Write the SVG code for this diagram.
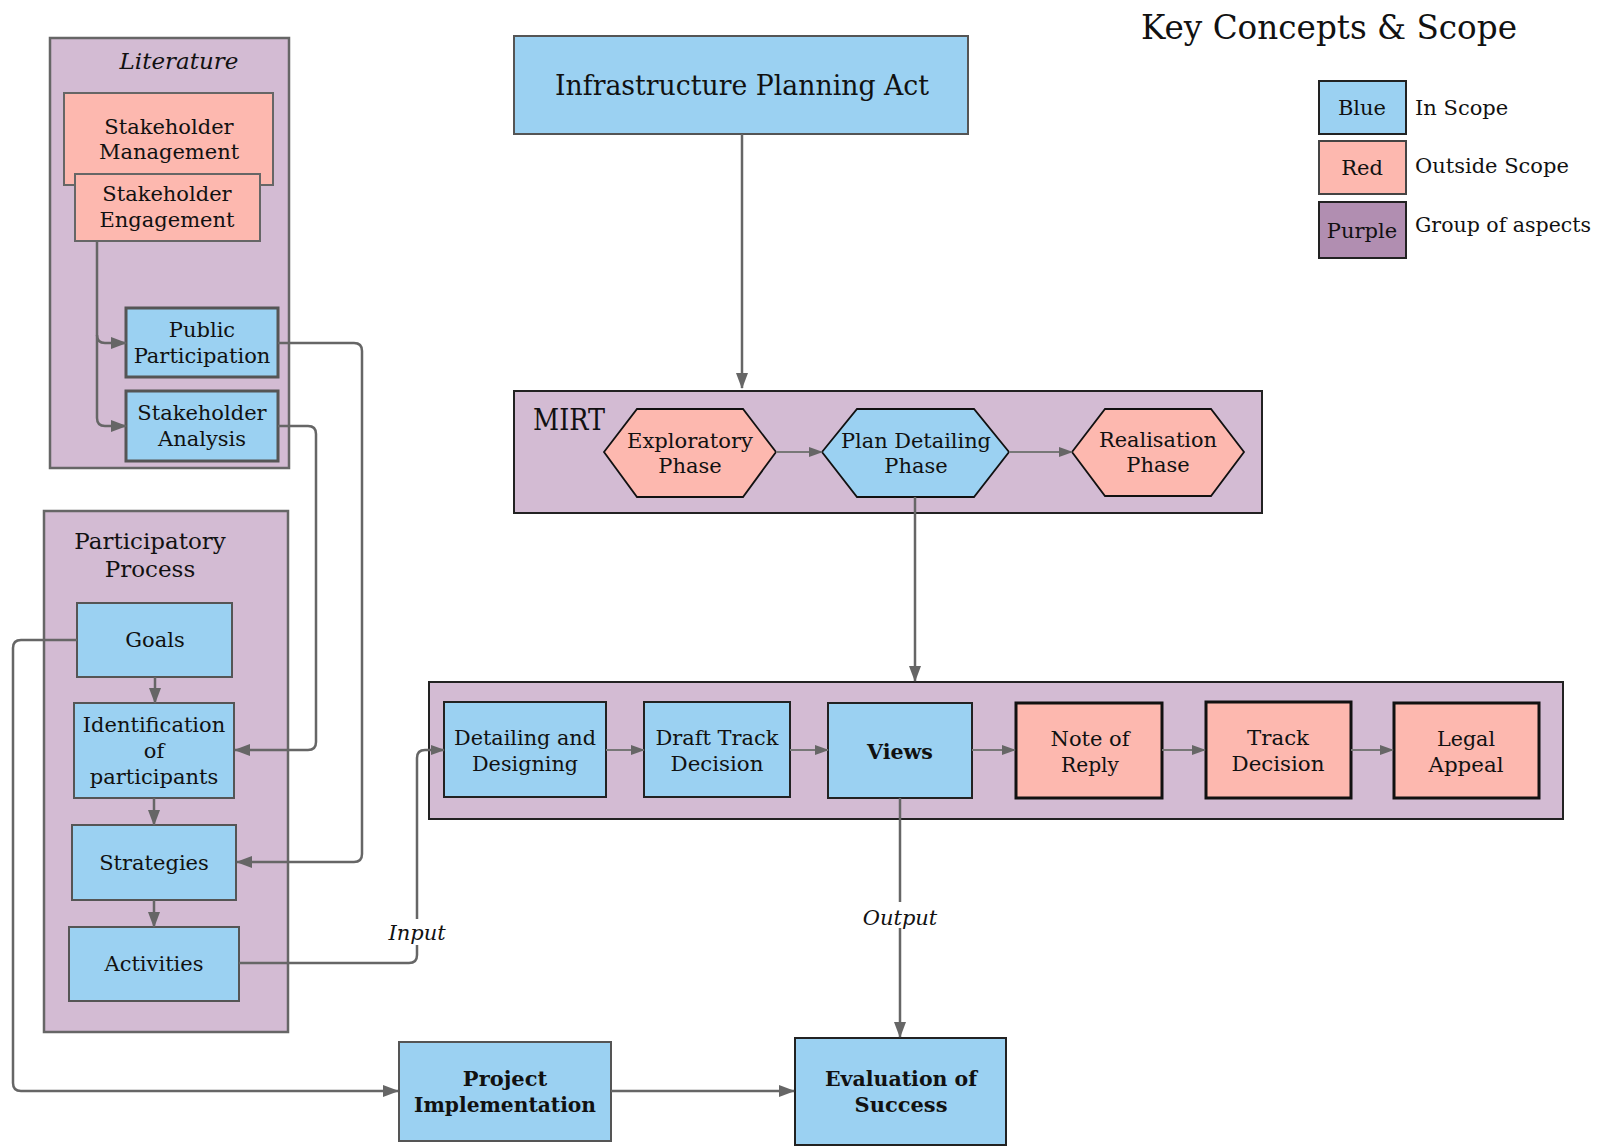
<svg xmlns="http://www.w3.org/2000/svg" width="1600" height="1147" viewBox="0 0 1600 1147">
<style>
text{font-family:"DejaVu Serif","Liberation Serif",serif;fill:#111;text-anchor:middle}
.t22{font-size:21px}
.it{font-style:italic}
.b{font-weight:bold}
.grp{fill:#D3BBD3;stroke:#666;stroke-width:2.5}
.grpk{fill:#D3BBD3;stroke:#222;stroke-width:2}
.blue{fill:#9BD1F2;stroke:#555;stroke-width:2}
.blue3{fill:#9BD1F2;stroke:#555;stroke-width:3}
.bluek{fill:#9BD1F2;stroke:#222;stroke-width:2}
.red{fill:#FDB8AF;stroke:#666;stroke-width:2}
.redk{fill:#FDB8AF;stroke:#111;stroke-width:3}
.con{fill:none;stroke:#666;stroke-width:2.5}
.cons{fill:none;stroke:#777;stroke-width:1.8}
</style>
<defs>
<marker id="ah" viewBox="0 0 16 12" refX="15" refY="6" markerWidth="16" markerHeight="12" markerUnits="userSpaceOnUse" orient="auto"><path d="M0,0L16,6L0,12z" fill="#666"/></marker>
<marker id="as" viewBox="0 0 14 10" refX="13" refY="5" markerWidth="14" markerHeight="10" markerUnits="userSpaceOnUse" orient="auto"><path d="M0,0L14,5L0,10z" fill="#666"/></marker>
</defs>

<g id="legend">
<text x="1329" y="39" style="font-size:33px" textLength="376" lengthAdjust="spacingAndGlyphs">Key Concepts &amp; Scope</text>
<rect x="1319" y="81" width="87" height="53" fill="#9BD1F2" stroke="#222" stroke-width="2"/>
<text x="1362" y="115" class="t22">Blue</text>
<rect x="1319" y="141" width="87" height="53" fill="#FDB8AF" stroke="#444" stroke-width="2"/>
<text x="1362" y="175" class="t22">Red</text>
<rect x="1319" y="202" width="87" height="56" fill="#B18EB1" stroke="#222" stroke-width="2"/>
<text x="1362" y="238" class="t22">Purple</text>
<text x="1415" y="115" class="t22" style="text-anchor:start">In Scope</text>
<text x="1415" y="173" class="t22" style="text-anchor:start">Outside Scope</text>
<text x="1415" y="232" class="t22" style="text-anchor:start" textLength="176" lengthAdjust="spacingAndGlyphs">Group of aspects</text>
</g>

<g id="literature">
<rect x="50" y="38" width="239" height="430" class="grp"/>
<text x="179" y="69" class="it" style="font-size:23px">Literature</text>
</g>
<g id="participatory">
<rect x="44" y="511" width="244" height="521" class="grp" stroke-width="1.5"/>
<text x="150" y="549" style="font-size:23px">Participatory</text>
<text x="150" y="577" style="font-size:23px">Process</text>
</g>
<g id="mirt">
<rect x="514" y="391" width="748" height="122" class="grpk"/>
<text x="569" y="430" style="font-size:29px" textLength="72" lengthAdjust="spacingAndGlyphs">MIRT</text>
</g>
<g id="planphase">
<rect x="429" y="682" width="1134" height="137" class="grpk"/>
</g>

<g id="stakeholder-management">
<rect x="64" y="93" width="209" height="92" class="red"/>
<text x="169" y="134" class="t22">Stakeholder</text>
<text x="169" y="159" class="t22">Management</text>
</g>
<g id="stakeholder-engagement">
<rect x="75" y="174" width="185" height="67" class="red"/>
<text x="167" y="201" class="t22">Stakeholder</text>
<text x="167" y="227" class="t22">Engagement</text>
</g>
<g id="public-participation">
<rect x="126" y="308" width="152" height="69" class="blue3"/>
<text x="202" y="337" class="t22">Public</text>
<text x="202" y="363" class="t22">Participation</text>
</g>
<g id="stakeholder-analysis">
<rect x="126" y="391" width="152" height="70" class="blue3"/>
<text x="202" y="420" class="t22">Stakeholder</text>
<text x="202" y="446" class="t22">Analysis</text>
</g>

<g id="goals">
<rect x="77" y="603" width="155" height="74" class="blue" stroke-width="1.5"/>
<text x="155" y="647" class="t22">Goals</text>
</g>
<g id="identification">
<rect x="74" y="703" width="160" height="95" class="blue" stroke-width="1.5"/>
<text x="154" y="732" class="t22">Identification</text>
<text x="154" y="758" class="t22">of</text>
<text x="154" y="784" class="t22">participants</text>
</g>
<g id="strategies">
<rect x="72" y="825" width="164" height="75" class="blue" stroke-width="1.5"/>
<text x="154" y="870" class="t22">Strategies</text>
</g>
<g id="activities">
<rect x="69" y="927" width="170" height="74" class="blue" stroke-width="1.5"/>
<text x="154" y="971" class="t22">Activities</text>
</g>

<g id="infrastructure-planning-act">
<rect x="514" y="36" width="454" height="98" class="blue" stroke="#333"/>
<text x="742" y="95" style="font-size:28px" textLength="374" lengthAdjust="spacingAndGlyphs">Infrastructure Planning Act</text>
</g>

<g id="exploratory">
<polygon points="604,452 637,409 743,409 776,452 743,497 637,497" fill="#FDB8AF" stroke="#111" stroke-width="1.8"/>
<text x="690" y="448" class="t22" textLength="126" lengthAdjust="spacingAndGlyphs">Exploratory</text>
<text x="690" y="473" class="t22">Phase</text>
</g>
<g id="plan-detailing">
<polygon points="822,452 857,409 974,409 1009,452 974,497 857,497" fill="#9BD1F2" stroke="#111" stroke-width="1.8"/>
<text x="916" y="448" class="t22" textLength="150" lengthAdjust="spacingAndGlyphs">Plan Detailing</text>
<text x="916" y="473" class="t22">Phase</text>
</g>
<g id="realisation">
<polygon points="1072,452 1105,409 1211,409 1244,452 1211,496 1105,496" fill="#FDB8AF" stroke="#111" stroke-width="1.8"/>
<text x="1158" y="447" class="t22" textLength="118" lengthAdjust="spacingAndGlyphs">Realisation</text>
<text x="1158" y="472" class="t22">Phase</text>
</g>

<g id="detailing-designing">
<rect x="444" y="702" width="162" height="95" class="bluek"/>
<text x="525" y="745" class="t22" textLength="142" lengthAdjust="spacingAndGlyphs">Detailing and</text>
<text x="525" y="771" class="t22" textLength="106" lengthAdjust="spacingAndGlyphs">Designing</text>
</g>
<g id="draft-track-decision">
<rect x="644" y="702" width="146" height="95" class="bluek"/>
<text x="717" y="745" class="t22" textLength="123" lengthAdjust="spacingAndGlyphs">Draft Track</text>
<text x="717" y="771" class="t22" textLength="93" lengthAdjust="spacingAndGlyphs">Decision</text>
</g>
<g id="views">
<rect x="828" y="703" width="144" height="95" class="bluek"/>
<text x="900" y="759" class="t22 b" textLength="66" lengthAdjust="spacingAndGlyphs">Views</text>
</g>
<g id="note-of-reply">
<rect x="1016" y="703" width="146" height="95" class="redk"/>
<text x="1090" y="746" class="t22" textLength="79" lengthAdjust="spacingAndGlyphs">Note of</text>
<text x="1090" y="772" class="t22" textLength="58" lengthAdjust="spacingAndGlyphs">Reply</text>
</g>
<g id="track-decision">
<rect x="1206" y="702" width="145" height="96" class="redk"/>
<text x="1278" y="745" class="t22" textLength="62" lengthAdjust="spacingAndGlyphs">Track</text>
<text x="1278" y="771" class="t22" textLength="93" lengthAdjust="spacingAndGlyphs">Decision</text>
</g>
<g id="legal-appeal">
<rect x="1394" y="703" width="145" height="95" class="redk"/>
<text x="1466" y="746" class="t22" textLength="58" lengthAdjust="spacingAndGlyphs">Legal</text>
<text x="1466" y="772" class="t22" textLength="75" lengthAdjust="spacingAndGlyphs">Appeal</text>
</g>

<g id="project-implementation">
<rect x="399" y="1042" width="212" height="99" class="blue" stroke="#777"/>
<text x="505" y="1086" class="t22 b">Project</text>
<text x="505" y="1112" class="t22 b" textLength="182" lengthAdjust="spacingAndGlyphs">Implementation</text>
</g>
<g id="evaluation">
<rect x="795" y="1038" width="211" height="107" class="bluek"/>
<text x="901" y="1086" class="t22 b" textLength="152" lengthAdjust="spacingAndGlyphs">Evaluation of</text>
<text x="901" y="1112" class="t22 b">Success</text>
</g>

<g id="connectors">
<path d="M742,134V388" class="con" marker-end="url(#ah)"/>
<path d="M97,241V335Q97,343 105,343H126" class="con" marker-end="url(#ah)"/>
<path d="M97,335V418Q97,426 105,426H126" class="con" marker-end="url(#ah)"/>
<path d="M278,343H354Q362,343 362,351V854Q362,862 354,862H237" class="con" marker-end="url(#ah)"/>
<path d="M278,426H308Q316,426 316,434V742Q316,750 308,750H235" class="con" marker-end="url(#ah)"/>
<path d="M155,677V703" class="con" marker-end="url(#ah)"/>
<path d="M154,798V825" class="con" marker-end="url(#ah)"/>
<path d="M154,900V927" class="con" marker-end="url(#ah)"/>
<path d="M77,640H21Q13,640 13,648V1083Q13,1091 21,1091H398" class="con" marker-end="url(#ah)"/>
<path d="M611,1091H794" class="con" marker-end="url(#ah)"/>
<path d="M239,963H409Q417,963 417,955V758Q417,750 425,750H444" class="con" marker-end="url(#as)"/>
<path d="M776,452H822" class="cons" marker-end="url(#as)"/>
<path d="M1009,452H1072" class="cons" marker-end="url(#as)"/>
<path d="M915,497V681" class="con" marker-end="url(#ah)"/>
<path d="M606,750H644" class="cons" marker-end="url(#as)"/>
<path d="M790,750H828" class="cons" marker-end="url(#as)"/>
<path d="M972,750H1015" class="cons" marker-end="url(#as)"/>
<path d="M1162,750H1205" class="cons" marker-end="url(#as)"/>
<path d="M1351,750H1393" class="cons" marker-end="url(#as)"/>
<path d="M900,798V1037" class="con" stroke-width="3" marker-end="url(#ah)"/>
<rect x="862" y="902" width="76" height="26" fill="#fff"/>
<text x="900" y="925" class="t22 it">Output</text>
<rect x="388" y="919" width="58" height="26" fill="#fff"/>
<text x="417" y="940" class="t22 it">Input</text>
</g>
</svg>
